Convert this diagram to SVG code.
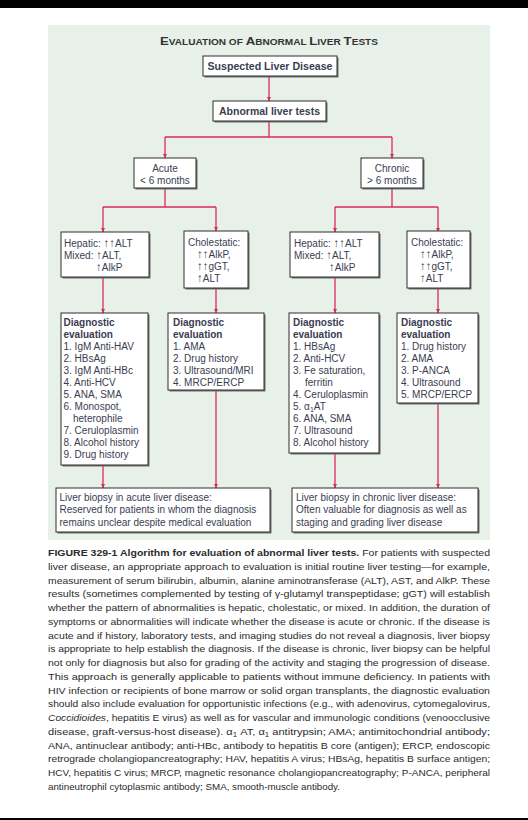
<svg xmlns="http://www.w3.org/2000/svg" width="528" height="820" viewBox="0 0 528 820">
<defs>
<style>
.t{font-family:"Liberation Sans",Arial,Helvetica,sans-serif;font-size:10px;fill:#3a3d52}
.b{font-weight:bold}
.ar{font-size:11.5px}
.box{fill:#fff;stroke:#2e2e2e;stroke-width:1}
.sh{fill:#707070}
.ln{fill:none;stroke:#dc2a5a;stroke-width:1.3}
.cap{font-family:"Liberation Sans",Arial,Helvetica,sans-serif;font-size:9.8px;fill:#2b2b2b}
</style>
<marker id="ah" viewBox="0 0 10 10" refX="10" refY="5" markerWidth="4.5" markerHeight="5.5" orient="auto" markerUnits="userSpaceOnUse">
<path d="M0,0 L10,5 L0,10 z" fill="#dc2a5a"/>
</marker>
</defs>
<rect x="0" y="0" width="528" height="820" fill="#fff"/>
<rect x="0" y="0" width="528" height="8" fill="#000"/>
<rect x="0" y="818" width="528" height="2" fill="#000"/>
<rect x="48" y="25" width="442" height="515" fill="#e7f1e9"/>

<text x="160" y="45" class="t b" style="fill:#333" textLength="218" lengthAdjust="spacingAndGlyphs"><tspan font-size="11.5">E</tspan><tspan font-size="8.8">VALUATION OF </tspan><tspan font-size="11.5">A</tspan><tspan font-size="8.8">BNORMAL </tspan><tspan font-size="11.5">L</tspan><tspan font-size="8.8">IVER </tspan><tspan font-size="11.5">T</tspan><tspan font-size="8.8">ESTS</tspan></text>

<g id="connectors">
<path class="ln" d="M269,76 V101" marker-end="url(#ah)"/>
<path class="ln" d="M269,121 V137 M165,137 H392"/>
<path class="ln" d="M165,137 V158" marker-end="url(#ah)"/>
<path class="ln" d="M392,137 V158" marker-end="url(#ah)"/>
<path class="ln" d="M165,188 V207 M103,207 H216 M392,188 V207 M335,207 H438"/>
<path class="ln" d="M103,207 V232" marker-end="url(#ah)"/>
<path class="ln" d="M216,207 V231" marker-end="url(#ah)"/>
<path class="ln" d="M335,207 V232" marker-end="url(#ah)"/>
<path class="ln" d="M438,207 V232" marker-end="url(#ah)"/>
<path class="ln" d="M103,277 V313" marker-end="url(#ah)"/>
<path class="ln" d="M216,288 V313" marker-end="url(#ah)"/>
<path class="ln" d="M335,277 V313" marker-end="url(#ah)"/>
<path class="ln" d="M438,288 V313" marker-end="url(#ah)"/>
<path class="ln" d="M103,465 V488" marker-end="url(#ah)"/>
<path class="ln" d="M216,390 V488" marker-end="url(#ah)"/>
<path class="ln" d="M335,453 V488" marker-end="url(#ah)"/>
<path class="ln" d="M438,403 V488" marker-end="url(#ah)"/>
</g>

<g id="suspected">
<rect class="sh" x="204.5" y="57.5" width="134" height="20"/>
<rect class="box" x="203" y="56" width="134" height="20"/>
<text x="270" y="70" class="t b" text-anchor="middle" textLength="125" lengthAdjust="spacingAndGlyphs">Suspected Liver Disease</text>
</g>

<g id="abnormal">
<rect class="sh" x="214.5" y="102.5" width="113" height="20"/>
<rect class="box" x="213" y="101" width="113" height="20"/>
<text x="269.5" y="115" class="t b" text-anchor="middle" textLength="101" lengthAdjust="spacingAndGlyphs">Abnormal liver tests</text>
</g>

<g id="acute">
<rect class="sh" x="135.5" y="159.5" width="62" height="30"/>
<rect class="box" x="134" y="158" width="62" height="30"/>
<text x="165" y="172" class="t" text-anchor="middle">Acute</text>
<text x="165" y="184" class="t" text-anchor="middle">&lt; 6 months</text>
</g>

<g id="chronic">
<rect class="sh" x="362.5" y="159.5" width="62" height="30"/>
<rect class="box" x="361" y="158" width="62" height="30"/>
<text x="392" y="172" class="t" text-anchor="middle">Chronic</text>
<text x="392" y="184" class="t" text-anchor="middle">&gt; 6 months</text>
</g>

<g id="hepatic-acute">
<rect class="sh" x="62.5" y="233.5" width="88" height="45"/>
<rect class="box" x="61" y="232" width="88" height="45"/>
<text x="64" y="247" class="t">Hepatic: <tspan class="ar">↑↑</tspan>ALT</text>
<text x="64" y="259" class="t">Mixed: <tspan class="ar">↑</tspan>ALT,</text>
<text x="96" y="271" class="t"><tspan class="ar">↑</tspan>AlkP</text>
</g>

<g id="cholestatic-acute">
<rect class="sh" x="185.5" y="232.5" width="64" height="57"/>
<rect class="box" x="184" y="231" width="64" height="57"/>
<text x="188" y="246" class="t">Cholestatic:</text>
<text x="197" y="258" class="t"><tspan class="ar">↑↑</tspan>AlkP,</text>
<text x="197" y="270" class="t"><tspan class="ar">↑↑</tspan>gGT,</text>
<text x="197" y="282" class="t"><tspan class="ar">↑</tspan>ALT</text>
</g>

<g id="hepatic-chronic">
<rect class="sh" x="291.5" y="233.5" width="89" height="45"/>
<rect class="box" x="290" y="232" width="89" height="45"/>
<text x="294" y="247" class="t">Hepatic: <tspan class="ar">↑↑</tspan>ALT</text>
<text x="294" y="259" class="t">Mixed: <tspan class="ar">↑</tspan>ALT,</text>
<text x="329" y="271" class="t"><tspan class="ar">↑</tspan>AlkP</text>
</g>

<g id="cholestatic-chronic">
<rect class="sh" x="408.5" y="232.5" width="63" height="57"/>
<rect class="box" x="407" y="231" width="63" height="57"/>
<text x="411" y="246" class="t">Cholestatic:</text>
<text x="420" y="258" class="t"><tspan class="ar">↑↑</tspan>AlkP,</text>
<text x="420" y="270" class="t"><tspan class="ar">↑↑</tspan>gGT,</text>
<text x="420" y="282" class="t"><tspan class="ar">↑</tspan>ALT</text>
</g>

<g id="diag-acute-hepatic">
<rect class="sh" x="62.5" y="314.5" width="87" height="152"/>
<rect class="box" x="61" y="313" width="87" height="152"/>
<text x="63.5" y="326" class="t b">Diagnostic</text>
<text x="63.5" y="338" class="t b">evaluation</text>
<text x="63.5" y="350" class="t">1. IgM Anti-HAV</text>
<text x="63.5" y="362" class="t">2. HBsAg</text>
<text x="63.5" y="374" class="t">3. IgM Anti-HBc</text>
<text x="63.5" y="386" class="t">4. Anti-HCV</text>
<text x="63.5" y="398" class="t">5. ANA, SMA</text>
<text x="63.5" y="410" class="t">6. Monospot,</text>
<text x="73" y="422" class="t">heterophile</text>
<text x="63.5" y="434" class="t">7. Ceruloplasmin</text>
<text x="63.5" y="446" class="t">8. Alcohol history</text>
<text x="63.5" y="458" class="t">9. Drug history</text>
</g>

<g id="diag-acute-cholestatic">
<rect class="sh" x="169.5" y="314.5" width="96" height="77"/>
<rect class="box" x="168" y="313" width="96" height="77"/>
<text x="173" y="326" class="t b">Diagnostic</text>
<text x="173" y="338" class="t b">evaluation</text>
<text x="173" y="350" class="t">1. AMA</text>
<text x="173" y="362" class="t">2. Drug history</text>
<text x="173" y="374" class="t">3. Ultrasound/MRI</text>
<text x="173" y="386" class="t">4. MRCP/ERCP</text>
</g>

<g id="diag-chronic-hepatic">
<rect class="sh" x="290.5" y="314.5" width="90" height="140"/>
<rect class="box" x="289" y="313" width="90" height="140"/>
<text x="293" y="326" class="t b">Diagnostic</text>
<text x="293" y="338" class="t b">evaluation</text>
<text x="293" y="350" class="t">1. HBsAg</text>
<text x="293" y="362" class="t">2. Anti-HCV</text>
<text x="293" y="374" class="t">3. Fe saturation,</text>
<text x="305" y="386" class="t">ferritin</text>
<text x="293" y="398" class="t">4. Ceruloplasmin</text>
<text x="293" y="410" class="t">5. α<tspan font-size="7" dy="2">1</tspan><tspan dy="-2">AT</tspan></text>
<text x="293" y="422" class="t">6. ANA, SMA</text>
<text x="293" y="434" class="t">7. Ultrasound</text>
<text x="293" y="446" class="t">8. Alcohol history</text>
</g>

<g id="diag-chronic-cholestatic">
<rect class="sh" x="398.5" y="314.5" width="81" height="90"/>
<rect class="box" x="397" y="313" width="81" height="90"/>
<text x="401" y="326" class="t b">Diagnostic</text>
<text x="401" y="338" class="t b">evaluation</text>
<text x="401" y="350" class="t">1. Drug history</text>
<text x="401" y="362" class="t">2. AMA</text>
<text x="401" y="374" class="t">3. P-ANCA</text>
<text x="401" y="386" class="t">4. Ultrasound</text>
<text x="401" y="398" class="t">5. MRCP/ERCP</text>
</g>

<g id="biopsy-acute">
<rect class="sh" x="57.5" y="489.5" width="214" height="44"/>
<rect class="box" x="56" y="488" width="214" height="44"/>
<text x="59.5" y="500.5" class="t">Liver biopsy in acute liver disease:</text>
<text x="59.5" y="513" class="t">Reserved for patients in whom the diagnosis</text>
<text x="59.5" y="525.5" class="t">remains unclear despite medical evaluation</text>
</g>

<g id="biopsy-chronic">
<rect class="sh" x="293.5" y="489.5" width="186" height="44"/>
<rect class="box" x="292" y="488" width="186" height="44"/>
<text x="296" y="500.5" class="t">Liver biopsy in chronic liver disease:</text>
<text x="296" y="513" class="t">Often valuable for diagnosis as well as</text>
<text x="296" y="525.5" class="t">staging and grading liver disease</text>
</g>

<g id="caption">
<text x="48" y="556" class="cap" textLength="442" lengthAdjust="spacingAndGlyphs"><tspan font-weight="bold">FIGURE 329-1  Algorithm for evaluation of abnormal liver tests.</tspan> For patients with suspected</text>
<text x="48" y="569.75" class="cap" textLength="442" lengthAdjust="spacingAndGlyphs">liver disease, an appropriate approach to evaluation is initial routine liver testing—for example,</text>
<text x="48" y="583.5" class="cap" textLength="442" lengthAdjust="spacingAndGlyphs">measurement of serum bilirubin, albumin, alanine aminotransferase (ALT), AST, and AlkP. These</text>
<text x="48" y="597.25" class="cap" textLength="442" lengthAdjust="spacingAndGlyphs">results (sometimes complemented by testing of γ-glutamyl transpeptidase; gGT) will establish</text>
<text x="48" y="611" class="cap" textLength="442" lengthAdjust="spacingAndGlyphs">whether the pattern of abnormalities is hepatic, cholestatic, or mixed. In addition, the duration of</text>
<text x="48" y="624.75" class="cap" textLength="442" lengthAdjust="spacingAndGlyphs">symptoms or abnormalities will indicate whether the disease is acute or chronic. If the disease is</text>
<text x="48" y="638.5" class="cap" textLength="442" lengthAdjust="spacingAndGlyphs">acute and if history, laboratory tests, and imaging studies do not reveal a diagnosis, liver biopsy</text>
<text x="48" y="652.25" class="cap" textLength="442" lengthAdjust="spacingAndGlyphs">is appropriate to help establish the diagnosis. If the disease is chronic, liver biopsy can be helpful</text>
<text x="48" y="666" class="cap" textLength="442" lengthAdjust="spacingAndGlyphs">not only for diagnosis but also for grading of the activity and staging the progression of disease.</text>
<text x="48" y="679.75" class="cap" textLength="442" lengthAdjust="spacingAndGlyphs">This approach is generally applicable to patients without immune deficiency. In patients with</text>
<text x="48" y="693.5" class="cap" textLength="442" lengthAdjust="spacingAndGlyphs">HIV infection or recipients of bone marrow or solid organ transplants, the diagnostic evaluation</text>
<text x="48" y="707.25" class="cap" textLength="442" lengthAdjust="spacingAndGlyphs">should also include evaluation for opportunistic infections (e.g., with adenovirus, cytomegalovirus,</text>
<text x="48" y="721" class="cap" textLength="442" lengthAdjust="spacingAndGlyphs"><tspan font-style="italic">Coccidioides</tspan>, hepatitis E virus) as well as for vascular and immunologic conditions (venoocclusive</text>
<text x="48" y="734.75" class="cap" textLength="442" lengthAdjust="spacingAndGlyphs">disease, graft-versus-host disease). α<tspan font-size="7" dy="2">1</tspan><tspan dy="-2"> AT, α</tspan><tspan font-size="7" dy="2">1</tspan><tspan dy="-2"> antitrypsin; AMA; antimitochondrial antibody;</tspan></text>
<text x="48" y="748.5" class="cap" textLength="442" lengthAdjust="spacingAndGlyphs">ANA, antinuclear antibody; anti-HBc, antibody to hepatitis B core (antigen); ERCP, endoscopic</text>
<text x="48" y="762.25" class="cap" textLength="442" lengthAdjust="spacingAndGlyphs">retrograde cholangiopancreatography; HAV, hepatitis A virus; HBsAg, hepatitis B surface antigen;</text>
<text x="48" y="776" class="cap" textLength="442" lengthAdjust="spacingAndGlyphs">HCV, hepatitis C virus; MRCP, magnetic resonance cholangiopancreatography; P-ANCA, peripheral</text>
<text x="48" y="789.75" class="cap" textLength="292" lengthAdjust="spacingAndGlyphs">antineutrophil cytoplasmic antibody; SMA, smooth-muscle antibody.</text>
</g>
</svg>
